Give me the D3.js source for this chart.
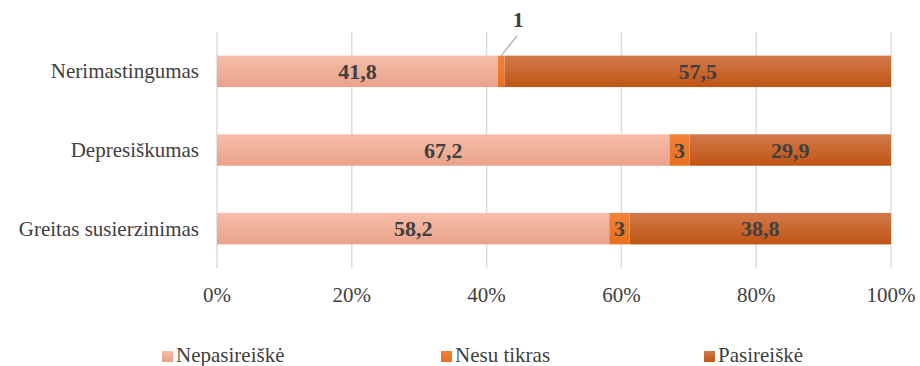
<!DOCTYPE html>
<html lang="lt">
<head>
<meta charset="UTF-8">
<title>Stacked bar chart</title>
<script src="https://cdnjs.cloudflare.com/ajax/libs/d3/7.8.5/d3.min.js"></script>
<style>
  body { margin: 0; background: #fff; }
  svg text { font-family: "Times New Roman", Times, Tinos, "Liberation Serif", "DejaVu Serif", "Noto Serif", serif; fill: #404040; }
  .grid line { stroke: #d9dde6; stroke-width: 1.5px; }
  .cat { font-size: 21px; }
  .tick-label { font-size: 21px; }
  .val { font-size: 22px; font-weight: bold; }
  .legend text { font-size: 21px; }
</style>
</head>
<body>
<svg width="920" height="366"></svg>
<script>
// Data
const categories = ["Nerimastingumas", "Depresiškumas", "Greitas susierzinimas"];
const seriesNames = ["Nepasireiškė", "Nesu tikras", "Pasireiškė"];
const nepasireiske = [41.8, 67.2, 58.2];
const nesuTikras = [1, 3, 3];
const pasireiske = [57.5, 29.9, 38.8];
const tickLabels = ["0%", "20%", "40%", "60%", "80%", "100%"];

const seriesValues = [nepasireiske, nesuTikras, pasireiske];
const colors = [
  ["#f6bea9", "#e9a18a"],
  ["#f0823a", "#e8701f"],
  ["#d3794a", "#bf5513"]
];

const svg = d3.select("svg");
const x = d3.scaleLinear().domain([0, 1]).range([217, 891]);
const y = d3.scaleBand().domain(categories).range([32, 268]).paddingInner(0.6).paddingOuter(0.3);

// gradients
const defs = svg.append("defs");
colors.forEach((c, i) => {
  const g = defs.append("linearGradient").attr("id", "grad" + i)
    .attr("x1", 0).attr("y1", 0).attr("x2", 0).attr("y2", 1);
  g.append("stop").attr("offset", "0%").attr("stop-color", c[0]);
  g.append("stop").attr("offset", "100%").attr("stop-color", c[1]);
});

// gridlines
svg.append("g").attr("class", "grid")
  .selectAll("line").data(d3.range(0, 1.01, 0.2)).enter().append("line")
  .attr("x1", d => x(d)).attr("x2", d => x(d))
  .attr("y1", 32).attr("y2", 268);

// tick labels
svg.append("g").selectAll("text").data(d3.range(0, 1.01, 0.2)).enter().append("text")
  .attr("class", "tick-label")
  .attr("x", d => x(d)).attr("y", 302)
  .attr("text-anchor", "middle")
  .text((d, i) => tickLabels[i]);

// stacked data, normalised to 100%
const rows = categories.map((c, i) => {
  const vals = seriesValues.map(s => s[i]);
  const total = d3.sum(vals);
  let acc = 0;
  return vals.map((v, j) => {
    const seg = { cat: c, series: j, value: v, x0: acc / total, x1: (acc + v) / total };
    acc += v;
    return seg;
  });
});
const segs = rows.flat();

svg.append("g").selectAll("rect").data(segs).enter().append("rect")
  .attr("x", d => x(d.x0))
  .attr("width", d => x(d.x1) - x(d.x0))
  .attr("y", d => y(d.cat))
  .attr("height", y.bandwidth())
  .attr("fill", d => "url(#grad" + d.series + ")");

// value labels
const fmt = v => String(v).replace(".", ",");
segs.forEach(d => {
  const cx = (x(d.x0) + x(d.x1)) / 2;
  const cy = y(d.cat) + y.bandwidth() / 2;
  if (d.value < 2) {
    const top = y(d.cat);
    svg.append("line")
      .attr("x1", cx).attr("y1", top)
      .attr("x2", cx + 16).attr("y2", top - 20)
      .attr("stroke", "#a6b0bf").attr("stroke-width", 1.3);
    svg.append("text").attr("class", "val")
      .attr("x", cx + 17).attr("y", top - 29)
      .attr("text-anchor", "middle")
      .text(fmt(d.value));
  } else {
    svg.append("text").attr("class", "val")
      .attr("x", cx).attr("y", cy + 7.5)
      .attr("text-anchor", "middle")
      .text(fmt(d.value));
  }
});

// category labels
svg.append("g").selectAll("text").data(categories).enter().append("text")
  .attr("class", "cat")
  .attr("x", 199)
  .attr("y", d => y(d) + y.bandwidth() / 2 + 7)
  .attr("text-anchor", "end")
  .text(d => d);

// legend
const legendX = [162, 441, 704];
const legend = svg.append("g").attr("class", "legend");
seriesNames.forEach((n, i) => {
  legend.append("rect").attr("x", legendX[i]).attr("y", 351)
    .attr("width", 11).attr("height", 11)
    .attr("fill", "url(#grad" + i + ")");
  legend.append("text").attr("x", legendX[i] + 14).attr("y", 362).text(n);
});
</script>
</body>
</html>
